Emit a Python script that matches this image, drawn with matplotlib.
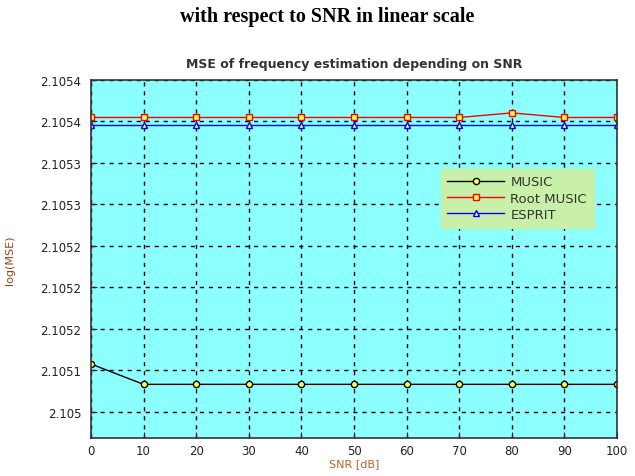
import matplotlib
matplotlib.use("Agg")
import matplotlib.pyplot as plt

snr_db = [0, 10, 20, 30, 40, 50, 60, 70, 80, 90, 100]
music = [2.1050575, 2.105033, 2.105033, 2.105033, 2.105033, 2.105033,
         2.105033, 2.105033, 2.105033, 2.105033, 2.105033]
root_music = [2.1053545, 2.1053545, 2.1053545, 2.1053545, 2.1053545, 2.1053545,
              2.1053545, 2.1053545, 2.10536, 2.1053545, 2.1053545]
esprit = [2.1053455] * 11

y_ticks = [2.10500, 2.10505, 2.10510, 2.10515, 2.10520, 2.10525, 2.10530, 2.10535, 2.10540]
y_tick_labels = ["2.105", "2.1051", "2.1052", "2.1052", "2.1052", "2.1053", "2.1053", "2.1054", "2.1054"]
x_ticks = [0, 10, 20, 30, 40, 50, 60, 70, 80, 90, 100]

fig = plt.figure(figsize=(6.35, 4.77), dpi=100)
fig.patch.set_facecolor("white")
ax = fig.add_axes([91/635, 1 - 439.3/477, (617-91)/635, (439.3-80.7)/477])
ax.set_facecolor("#8cffff")

ax.set_xlim(0, 100)
ax.set_ylim(2.105 - 0.64*0.00005, 2.1054)

mk = dict(markersize=4.5, markerfacecolor="#ffff55", markeredgewidth=1.0)
ax.plot(snr_db, music, color="black", lw=1.0, marker="o", markeredgecolor="black", label="MUSIC", **mk)
ax.plot(snr_db, root_music, color="red", lw=1.0, marker="s", markeredgecolor="red", label="Root MUSIC", **mk)
ax.plot(snr_db, esprit, color="blue", lw=1.0, marker="^", markeredgecolor="blue", label="ESPRIT", **mk)

ax.set_xticks(x_ticks)
ax.set_yticks(y_ticks)
ax.set_yticklabels(y_tick_labels)
ax.tick_params(direction="in", length=4, labelsize=8.5, colors="#222222", width=0.8)
ax.tick_params(axis="y", pad=7)
ax.tick_params(axis="x", pad=4)
ax.grid(True, color="black", linestyle=(0, (3, 3.5)), linewidth=1.0)
for s in ax.spines.values():
    s.set_color("#333333")
    s.set_linewidth(1.2)

ax.set_title("MSE of frequency estimation depending on SNR", fontsize=9, fontweight="bold",
             color="#333333", pad=9)
ax.set_xlabel("SNR [dB]", fontsize=8, color="#c0602a", labelpad=1)
ax.set_ylabel("log(MSE)", fontsize=8, color="#a04010", labelpad=18)

leg = ax.legend(loc="upper left", bbox_to_anchor=(0.652, 0.77), fontsize=9.5,
                frameon=True, fancybox=False, handlelength=4.3, borderpad=0.5,
                labelspacing=0.25, handletextpad=0.5)
leg.get_frame().set_facecolor("#c8f0a8")
leg.get_frame().set_edgecolor("#c8f0a8")
leg.get_frame().set_alpha(1)
for t in leg.get_texts():
    t.set_color("#333333")

fig.text(0.5 * (176 + 478) / 635, 1 - 17/477, "with respect to SNR in linear scale",
         ha="center", va="center", fontsize=14.5, fontweight="bold",
         family="Liberation Serif")

fig.savefig("out.png", dpi=100)
